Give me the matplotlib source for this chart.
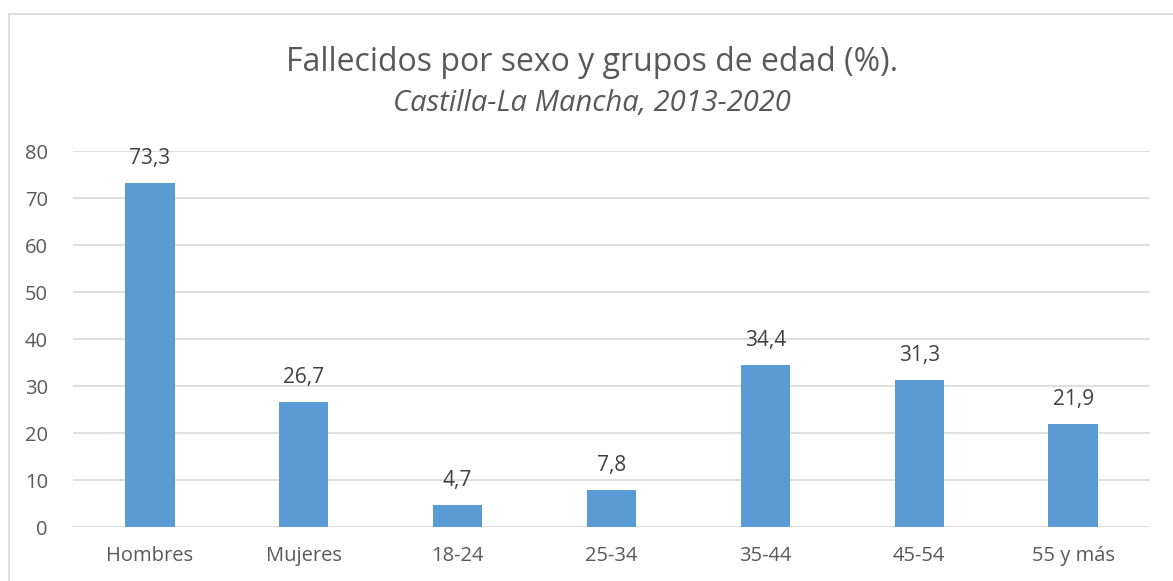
import matplotlib.pyplot as plt
from matplotlib.patches import Rectangle

# porcentaje de fallecidos por sexo y grupos de edad
categorias = ['Hombres', 'Mujeres', '18-24', '25-34', '35-44', '45-54', '55 y más']
porcentajes = [73.3, 26.7, 4.7, 7.8, 34.4, 31.3, 21.9]

plt.rcParams['font.family'] = ['Open Sans', 'DejaVu Sans']
gris = '#595959'

fig = plt.figure(figsize=(11.73, 5.81), dpi=100)
ax = fig.add_axes([0.0622, 0.0929, 0.9182, 0.6471])

x = range(len(categorias))
barras = ax.bar(x, porcentajes, width=0.32, color='#5b9bd5', zorder=3)

# etiquetas de valor con coma decimal
for b, v in zip(barras, porcentajes):
    ax.annotate(f'{v:.1f}'.replace('.', ','),
                (b.get_x() + b.get_width() / 2, v),
                xytext=(0, 10), textcoords='offset points',
                ha='center', va='bottom', fontsize=15, color='#404040')

ax.set_ylim(0, 80)
ax.set_xlim(-0.5, len(categorias) - 0.5)
ax.set_yticks(range(0, 81, 10))
ax.set_xticks(list(x))
ax.set_xticklabels(categorias)
ax.tick_params(axis='both', length=0, labelsize=14.5, colors=gris)
ax.tick_params(axis='y', pad=18)
ax.tick_params(axis='x', pad=14)
ax.grid(axis='y', color='#d9d9d9', linewidth=1.2, zorder=0)
for s in ax.spines.values():
    s.set_visible(False)

fig.text(0.5045, 0.892, 'Fallecidos por sexo y grupos de edad (%).',
         ha='center', va='center', fontsize=23, color=gris)
fig.text(0.5045, 0.822, 'Castilla-La Mancha, 2013-2020',
         ha='center', va='center', fontsize=21, style='italic', color=gris)

# marco del gráfico
fig.patches.append(Rectangle((9 / 1173, -0.05), 1.1, 1 - 14 / 581 + 0.05,
                             transform=fig.transFigure, fill=False,
                             edgecolor='#d9d9d9', linewidth=1.2))

fig.savefig('out.png', dpi=100)
